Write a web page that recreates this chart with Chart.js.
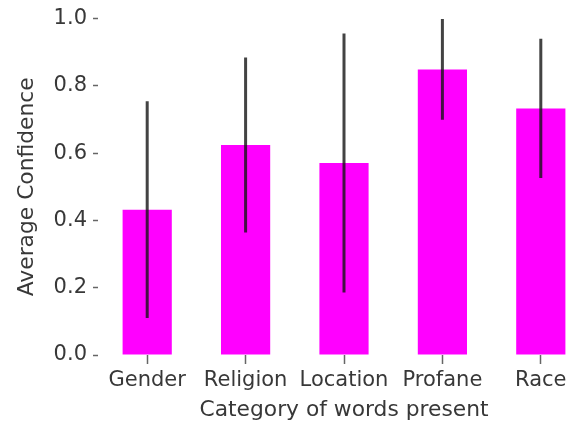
<!DOCTYPE html>
<html>
<head>
<meta charset="utf-8">
<script src="https://cdn.jsdelivr.net/npm/chart.js@4"></script>
<style>
  html, body { margin: 0; padding: 0; background: #fff; overflow: hidden; }
  #wrap { width: 572px; height: 425px; overflow: hidden; }
</style>
</head>
<body>
<div id="wrap"><canvas id="barChart" width="600" height="425"></canvas></div>
<script>
// data
const categories = ["Gender", "Religion", "Location", "Profane", "Race"];
const avgConfidence = [0.432, 0.624, 0.571, 0.849, 0.733];
const errorSize = [0.322, 0.260, 0.385, 0.150, 0.207];
const yTicks = [0.0, 0.2, 0.4, 0.6, 0.8, 1.0];

const textColor = "#383838";
const font = { family: "DejaVu Sans", size: 21 };
const titleFont = { family: "DejaVu Sans", size: 21.8 };

/* error bars drawn on top of bars, clipped to plot area like matplotlib */
const errorBarPlugin = {
    id: "errorBars",
    afterDatasetsDraw(chart) {
        const ctx = chart.ctx;
        const xs = chart.scales.x;
        const ys = chart.scales.y;
        const area = chart.chartArea;
        ctx.save();
        ctx.beginPath();
        ctx.rect(area.left, area.top - 2, area.right - area.left, area.bottom - area.top + 2);
        ctx.clip();
        ctx.strokeStyle = "rgba(20,20,20,0.8)";
        ctx.lineWidth = 3;
        avgConfidence.forEach((v, i) => {
            const x = xs.getPixelForValue(i);
            ctx.beginPath();
            ctx.moveTo(x, ys.getPixelForValue(v - errorSize[i]));
            ctx.lineTo(x, ys.getPixelForValue(v + errorSize[i]));
            ctx.stroke();
        });
        ctx.restore();
    }
};

new Chart(document.getElementById("barChart").getContext("2d"), {
    type: "bar",
    data: {
        labels: categories,
        datasets: [{
            label: "Average Confidence",
            data: avgConfidence,
            backgroundColor: "#ff00ff",
            categoryPercentage: 1.0,
            barPercentage: 0.5
        }]
    },
    options: {
        responsive: false,
        animation: false,
        layout: { padding: { top: 17, right: 10, left: 0, bottom: 0 } },
        plugins: {
            legend: { display: false },
            tooltip: { enabled: false }
        },
        scales: {
            x: {
                border: { display: false },
                grid: { offset: false, drawOnChartArea: false, drawTicks: true, tickLength: 9, tickColor: "#666", tickWidth: 1.5 },
                ticks: { color: textColor, font: font, padding: 4, maxRotation: 0 },
                title: { display: true, text: "Category of words present", color: textColor, font: titleFont, padding: { top: 0, bottom: 2 } },
                afterFit(scale) { scale.height = 70; }
            },
            y: {
                min: 0,
                max: 1,
                border: { display: false },
                grid: { drawOnChartArea: false, drawTicks: true, tickLength: 5, tickColor: "#666", tickWidth: 1.5 },
                afterBuildTicks(scale) { scale.ticks = yTicks.map(v => ({ value: v })); },
                ticks: {
                    color: textColor,
                    font: font,
                    padding: 6,
                    callback: v => Number(v).toFixed(1)
                },
                title: { display: true, text: "Average Confidence", color: textColor, font: titleFont, padding: { top: 14, bottom: 0 } },
                afterFit(scale) { scale.width = 98; }
            }
        }
    },
    plugins: [errorBarPlugin]
});
</script>
</body>
</html>
